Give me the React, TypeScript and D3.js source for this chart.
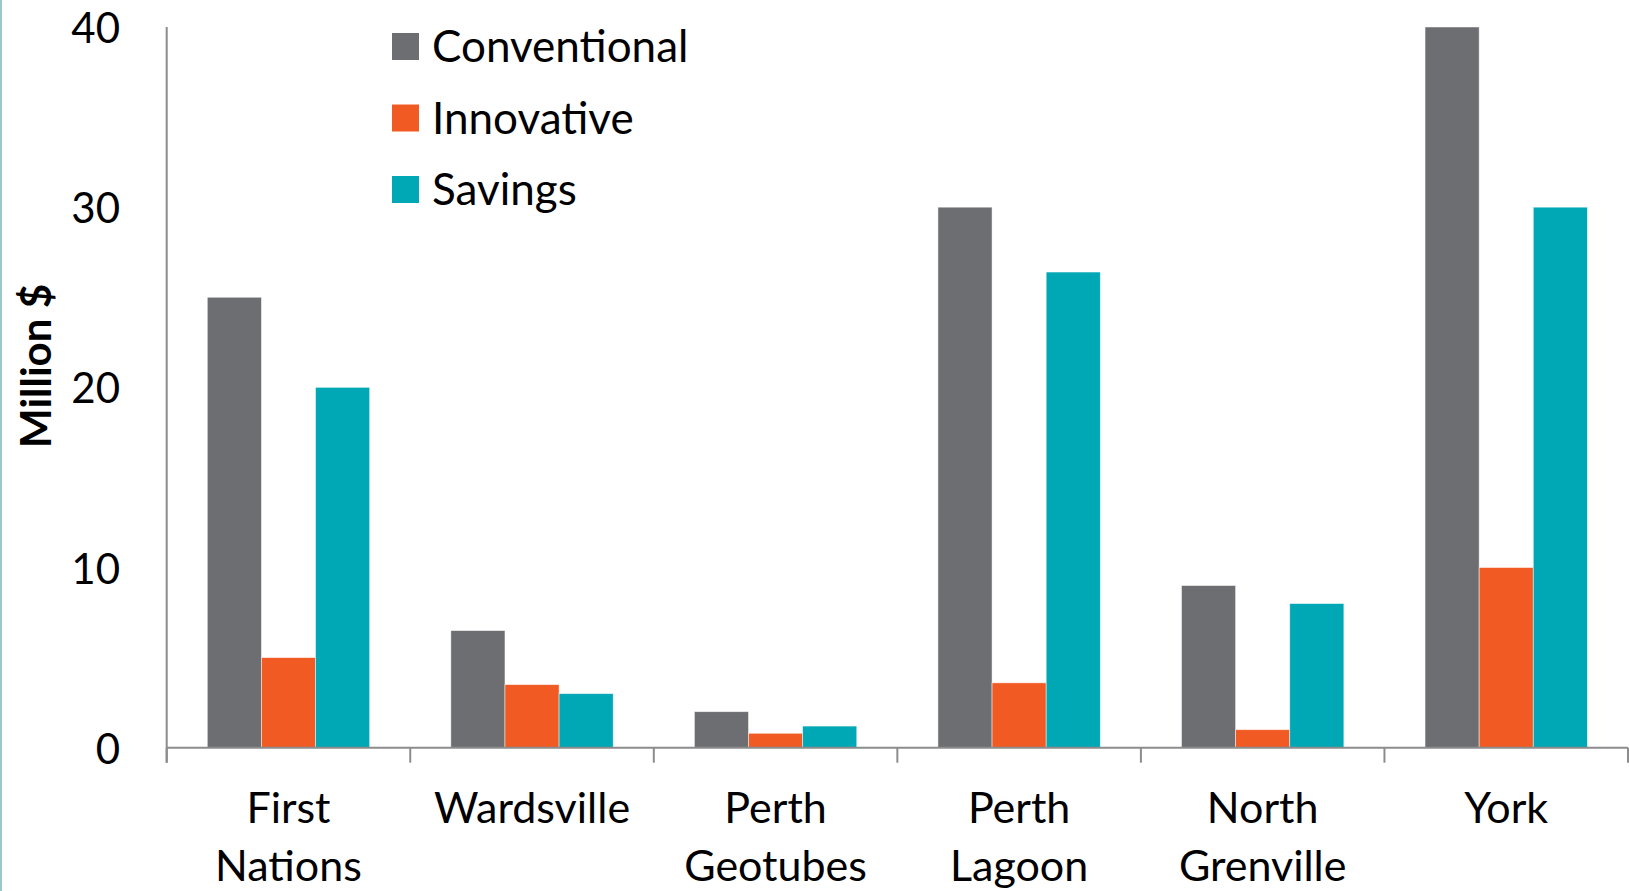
import { useMemo } from "react";
import { scaleBand, scaleLinear } from "d3";

const categories = ["First Nations", "Wardsville", "Perth Geotubes", "Perth Lagoon", "North Grenville", "York"];
const categoryLines = [["First", "Nations"], ["Wardsville"], ["Perth", "Geotubes"], ["Perth", "Lagoon"], ["North", "Grenville"], ["York"]];
const seriesNames = ["Conventional", "Innovative", "Savings"];
const conventional = [25, 6.5, 2, 30, 9, 40];
const innovative = [5, 3.5, 0.8, 3.6, 1, 10];
const savings = [20, 3, 1.2, 26.4, 8, 30];
const yTicks = [0, 10, 20, 30, 40];

const colors = ["#6d6e71", "#f15a22", "#00a7b5"];
const FONT = "Lato, 'Open Sans', sans-serif";

export default function App() {
  const width = 1629;
  const height = 891;
  const left = 166.7;
  const right = 1628;
  const top = 27;
  const bottom = 747.7;

  const x0 = useMemo(() => scaleBand<string>().domain(categories).range([left, right]), []);
  const x1 = useMemo(
    () => scaleBand<string>().domain(seriesNames).range([0, x0.bandwidth()]).paddingOuter(0.75),
    [x0]
  );
  const y = useMemo(() => scaleLinear().domain([0, 40]).range([bottom, top]), []);

  const values = [conventional, innovative, savings];
  const boundaries = [...categories.map((c) => x0(c) as number), right];

  return (
    <div style={{ position: "absolute", left: 0, top: 0 }}>
      <svg width={width} height={height} style={{ display: "block", background: "#fff" }}>
        {/* faint edge of the slide */}
        <rect x={0} y={0} width={2} height={height} fill="#9cc6cf" />

        {/* bars */}
        {categories.map((c, ci) => (
          <g key={c} transform={`translate(${x0(c)},0)`}>
            {seriesNames.map((s, si) => {
              const v = values[si][ci];
              return (
                <rect
                  key={s}
                  x={x1(s)}
                  y={y(v)}
                  width={x1.bandwidth()}
                  height={y(0) - y(v)}
                  fill={colors[si]}
                  stroke="#ffffff"
                  strokeOpacity={0.6}
                  strokeWidth={0.8}
                />
              );
            })}
          </g>
        ))}

        {/* axes */}
        <line x1={left} x2={left} y1={top} y2={bottom + 15} stroke="#8c8c8c" strokeWidth={2} />
        <line x1={left} x2={right} y1={bottom} y2={bottom} stroke="#8c8c8c" strokeWidth={2} />
        {boundaries.map((b, i) => (
          <line key={i} x1={b} x2={b} y1={bottom} y2={bottom + 15} stroke="#8c8c8c" strokeWidth={2} />
        ))}

        {/* y tick labels */}
        {yTicks.map((t) => (
          <text
            key={t}
            x={120}
            y={y(t)}
            textAnchor="end"
            dominantBaseline="central"
            fontFamily={FONT}
            fontSize={42}
            fill="#000"
          >
            {t}
          </text>
        ))}

        {/* y axis title */}
        <text
          transform={`translate(51,366) rotate(-90)`}
          textAnchor="middle"
          fontFamily={FONT}
          fontWeight="bold"
          fontSize={42}
          fill="#000"
        >
          Million $
        </text>

        {/* category labels */}
        {categories.map((c, ci) => (
          <text
            key={c}
            x={(x0(c) as number) + x0.bandwidth() / 2}
            textAnchor="middle"
            fontFamily={FONT}
            fontSize={43}
            fill="#000"
          >
            {categoryLines[ci].map((line, li) => (
              <tspan key={li} x={(x0(c) as number) + x0.bandwidth() / 2} y={823 + li * 58}>
                {line}
              </tspan>
            ))}
          </text>
        ))}

        {/* legend */}
        {seriesNames.map((s, i) => (
          <g key={s} transform={`translate(392,${33 + i * 71.5})`}>
            <rect width={27} height={27} fill={colors[i]} />
            <text x={40} y={29} fontFamily={FONT} fontSize={44} fill="#000">
              {s}
            </text>
          </g>
        ))}
      </svg>
    </div>
  );
}
